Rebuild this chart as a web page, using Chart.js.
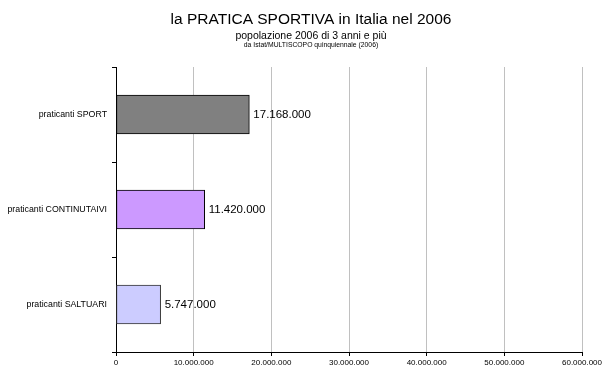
<!DOCTYPE html>
<html>
<head>
<meta charset="utf-8">
<script src="https://cdn.jsdelivr.net/npm/chart.js@4"></script>
<style>
  html, body { margin: 0; padding: 0; background: #fff; }
  #wrap { width: 609px; height: 367px; }
</style>
</head>
<body>
<div id="wrap"><canvas id="myChart" width="609" height="367"></canvas></div>
<script>
var categorie = ['praticanti SPORT', 'praticanti CONTINUTAIVI', 'praticanti SALTUARI'];
var praticanti = [17168000, 11420000, 5747000];
var colori = ['#808080', '#CC99FF', '#CCCCFF'];
var bordi = ['#000000', '#000000', '#333333'];
var titoli = ['la PRATICA SPORTIVA in Italia nel 2006', 'popolazione 2006 di 3 anni e più', 'da Istat/MULTISCOPO quinquiennale (2006)'];

var FONT = '"Liberation Sans", Arial, sans-serif';

function puntini(v) {
    return String(v).replace(/\B(?=(\d{3})+(?!\d))/g, '.');
}

// titles and the value written at the end of each bar
var testiPlugin = {
    id: 'testi',
    afterDraw: function (chart) {
        var ctx = chart.ctx;
        ctx.save();
        ctx.fillStyle = '#000';
        ctx.textAlign = 'center';
        ctx.textBaseline = 'middle';
        ctx.font = '15.5px ' + FONT;
        ctx.fillText(titoli[0], 311, 20);
        ctx.font = '10.5px ' + FONT;
        ctx.fillText(titoli[1], 311, 36);
        ctx.font = '6.8px ' + FONT;
        ctx.fillText(titoli[2], 311, 45);

        var meta = chart.getDatasetMeta(0);
        ctx.textAlign = 'left';
        ctx.font = '11.5px ' + FONT;
        meta.data.forEach(function (bar, i) {
            ctx.fillText(puntini(praticanti[i]), bar.x + 4, bar.y);
        });
        ctx.restore();
    }
};

new Chart('myChart', {
    type: 'bar',
    data: {
        labels: categorie,
        datasets: [{
            data: praticanti,
            backgroundColor: colori,
            borderColor: bordi,
            borderWidth: 1,
            borderSkipped: false,
            barThickness: 39
        }]
    },
    options: {
        indexAxis: 'y',
        responsive: false,
        animation: false,
        layout: { padding: { top: 67, right: 27, bottom: 0, left: 0 } },
        plugins: {
            legend: { display: false },
            title: { display: false },
            tooltip: { enabled: false }
        },
        scales: {
            x: {
                min: 0,
                max: 60000000,
                afterFit: function (scale) { scale.height = 15; },
                border: { color: '#000', width: 1 },
                grid: { color: '#c0c0c0', tickColor: '#000', tickLength: 4 },
                ticks: {
                    stepSize: 10000000,
                    color: '#000',
                    padding: 2,
                    maxRotation: 0,
                    font: { family: FONT, size: 8 },
                    callback: function (v) { return puntini(v); }
                }
            },
            y: {
                afterFit: function (scale) { scale.width = 116; },
                border: { color: '#000', width: 1 },
                grid: { drawOnChartArea: false, tickColor: '#000', tickLength: 4, offset: true },
                ticks: {
                    color: '#000',
                    padding: 5,
                    font: { family: FONT, size: 8.8 }
                }
            }
        }
    },
    plugins: [testiPlugin]
});
</script>
</body>
</html>
